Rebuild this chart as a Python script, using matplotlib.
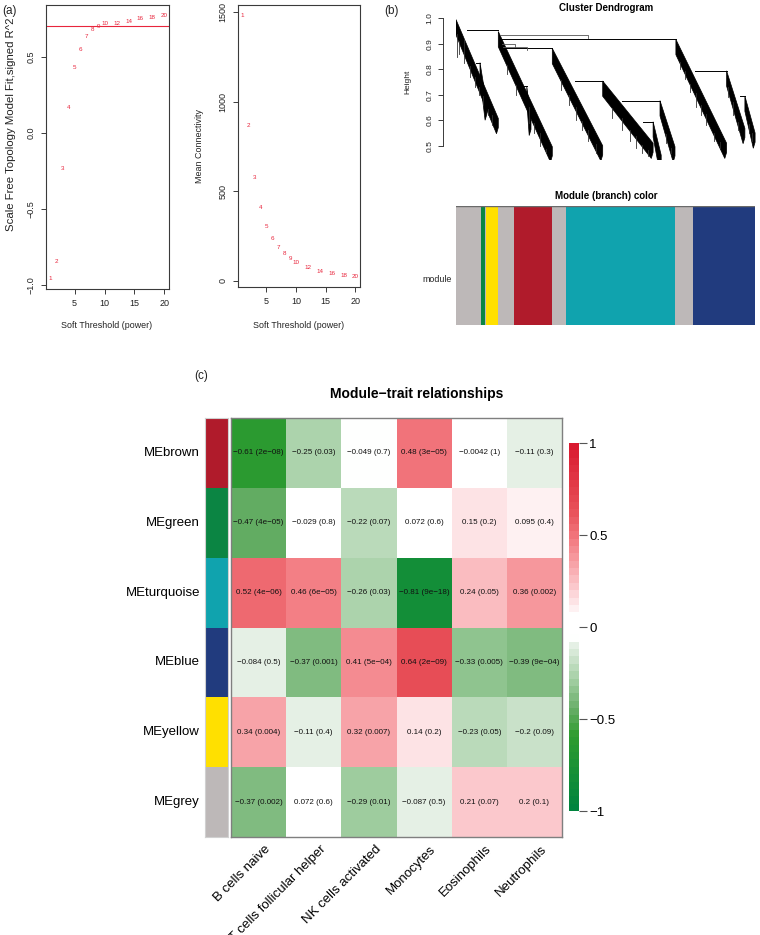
import numpy as np
import matplotlib
matplotlib.use('Agg')
import matplotlib.pyplot as plt
from matplotlib.colors import LinearSegmentedColormap, Normalize
from matplotlib.patches import Polygon, Rectangle
import matplotlib.colorbar as mcolorbar

plt.rcParams['font.family'] = ['Liberation Sans', 'DejaVu Sans']
plt.rcParams['axes.unicode_minus'] = True

# ---------------- data ----------------
powers = [1, 2, 3, 4, 5, 6, 7, 8, 9, 10, 12, 14, 16, 18, 20]
sft_r2 = [-0.958, -0.843, -0.232, 0.168, 0.427, 0.546, 0.631, 0.677, 0.701, 0.717,
          0.721, 0.734, 0.752, 0.761, 0.772]
mean_k = [1481, 867, 573, 409, 303, 234, 184, 149, 121, 100, 71, 52, 39, 28, 22]
r2_cut = 0.7

# dendrogram (leaf position 0..1, height)
band_u0 = [0.000, 0.080, 0.141, 0.236, 0.321, 0.489, 0.657, 0.680, 0.733, 0.902, 0.963]
band_u1 = [0.141, 0.103, 0.321, 0.250, 0.489, 0.657, 0.684, 0.730, 0.902, 0.963, 0.997]
band_h0 = [0.995, 0.826, 0.948, 0.733, 0.882, 0.754, 0.594, 0.677, 0.917, 0.794, 0.695]
band_h1 = [0.607, 0.660, 0.496, 0.600, 0.500, 0.510, 0.463, 0.496, 0.510, 0.568, 0.550]
merge_u0 = [0.035, 0.157, 0.147, 0.065, 0.215, 0.397, 0.553, 0.623, 0.797, 0.947]
merge_u1 = [0.141, 0.321, 0.733, 0.080, 0.236, 0.489, 0.680, 0.657, 0.902, 0.963]
merge_h = [0.954, 0.882, 0.917, 0.826, 0.733, 0.754, 0.677, 0.594, 0.794, 0.695]
minor_u0 = [0.147, 0.152, 0.157]
minor_u1 = [0.440, 0.197, 0.236]
minor_h = [0.935, 0.900, 0.888]
drip_u = [0.004, 0.010, 0.027, 0.045, 0.063, 0.075, 0.091, 0.105, 0.120,
          0.170, 0.200, 0.242, 0.260, 0.280, 0.300,
          0.350, 0.375, 0.400, 0.420, 0.440, 0.465,
          0.520, 0.552, 0.580, 0.600, 0.620, 0.640, 0.700, 0.715,
          0.745, 0.763, 0.780, 0.800, 0.815, 0.833, 0.860, 0.880,
          0.906, 0.922, 0.940, 0.975, 0.985]
drip_top = [0.940, 0.910, 0.920, 0.811, 0.770, 0.729, 0.695, 0.646, 0.620,
            0.815, 0.740, 0.650, 0.589, 0.550, 0.489,
            0.756, 0.699, 0.652, 0.597, 0.560, 0.505,
            0.649, 0.610, 0.562, 0.540, 0.504, 0.485, 0.545, 0.490,
            0.828, 0.795, 0.744, 0.706, 0.660, 0.626, 0.551, 0.513,
            0.729, 0.670, 0.593, 0.584, 0.551]
drip_bot = [0.850, 0.860, 0.823, 0.770, 0.730, 0.700, 0.660, 0.620, 0.580,
            0.780, 0.700, 0.588, 0.550, 0.500, 0.470,
            0.720, 0.660, 0.600, 0.560, 0.520, 0.470,
            0.610, 0.560, 0.520, 0.490, 0.470, 0.460, 0.510, 0.470,
            0.800, 0.760, 0.710, 0.650, 0.620, 0.580, 0.520, 0.490,
            0.690, 0.620, 0.560, 0.550, 0.520]

branch_names = ['grey', 'green', 'grey', 'yellow', 'grey', 'brown', 'grey', 'turquoise', 'grey', 'blue']
branch_start = [0.000, 0.084, 0.097, 0.100, 0.140, 0.194, 0.321, 0.368, 0.732, 0.793]
branch_end = [0.084, 0.097, 0.100, 0.140, 0.194, 0.321, 0.368, 0.732, 0.793, 1.000]
color_of = {'grey': '#BDB8B8', 'green': '#0B8543', 'yellow': '#FFE000', 'brown': '#B01B2B',
            'turquoise': '#10A3AE', 'blue': '#213B7E'}

modules = ['MEbrown', 'MEgreen', 'MEturquoise', 'MEblue', 'MEyellow', 'MEgrey']
module_keys = ['brown', 'green', 'turquoise', 'blue', 'yellow', 'grey']
traits = ['B cells naive', 'T cells follicular helper', 'NK cells activated',
          'Monocytes', 'Eosinophils', 'Neutrophils']
cor = [[-0.61, -0.25, -0.049, 0.48, -0.0042, -0.11],
       [-0.47, -0.029, -0.22, 0.072, 0.15, 0.095],
       [0.52, 0.46, -0.26, -0.81, 0.24, 0.36],
       [-0.084, -0.37, 0.41, 0.64, -0.33, -0.39],
       [0.34, -0.11, 0.32, 0.14, -0.23, -0.2],
       [-0.37, 0.072, -0.29, -0.087, 0.21, 0.2]]
pval = [['2e-08', '0.03', '0.7', '3e-05', '1', '0.3'],
        ['4e-05', '0.8', '0.07', '0.6', '0.2', '0.4'],
        ['4e-06', '6e-05', '0.03', '9e-18', '0.05', '0.002'],
        ['0.5', '0.001', '5e-04', '2e-09', '0.005', '9e-04'],
        ['0.004', '0.4', '0.007', '0.2', '0.05', '0.09'],
        ['0.002', '0.6', '0.01', '0.5', '0.07', '0.1']]

# ---------------- figure ----------------
W, H = 760, 935
fig = plt.figure(figsize=(7.6, 9.35), dpi=100)


def ax_px(x0, y0, x1, y1):
    return fig.add_axes([x0 / W, 1 - y1 / H, (x1 - x0) / W, (y1 - y0) / H])


def ftext(x, y, s, **kw):
    return fig.text(x / W, 1 - y / H, s, **kw)


MINUS = '\u2212'
red = '#E8253C'
frame_col = '#3A3A3A'


def r_style(ax):
    for s in ax.spines.values():
        s.set_color(frame_col)
        s.set_linewidth(0.8)
    ax.tick_params(length=3.5, width=0.7, color=frame_col, labelsize=6.5, labelcolor='#222222')
    ax.tick_params(axis='x', pad=4)
    ax.tick_params(axis='y', pad=4, labelrotation=90)
    for lab in ax.get_yticklabels():
        lab.set_va('center')


# Panel (a) left
axA = ax_px(46, 5, 169, 289)
axA.set_xlim(0.24, 20.76)
axA.set_ylim(-1.027, 0.841)
axA.axhline(r2_cut, color=red, lw=0.8)
for p, v in zip(powers, sft_r2):
    axA.text(p, v, str(p), color=red, fontsize=4.5, ha='center', va='center')
axA.set_xticks([5, 10, 15, 20])
axA.set_yticks([-1.0, -0.5, 0.0, 0.5])
axA.set_yticklabels([MINUS + '1.0', MINUS + '0.5', '0.0', '0.5'])
r_style(axA)
ftext(107, 326, 'Soft Threshold (power)', fontsize=6.4, ha='center', va='center', color='#222222')
ftext(11, 124, 'Scale Free Topology Model Fit,signed R^2', fontsize=8.2, rotation=90,
      ha='center', va='center', color='#222222')

# Panel (a) right
axB = ax_px(238, 5, 360, 287)
axB.set_xlim(0.24, 20.76)
axB.set_ylim(-36, 1539)
for p, v in zip(powers, mean_k):
    axB.text(p, v, str(p), color=red, fontsize=4.5, ha='center', va='center')
axB.set_xticks([5, 10, 15, 20])
axB.set_yticks([0, 500, 1000, 1500])
r_style(axB)
ftext(299, 326, 'Soft Threshold (power)', fontsize=6.4, ha='center', va='center', color='#222222')
ftext(200, 146, 'Mean Connectivity', fontsize=6.4, rotation=90, ha='center', va='center', color='#222222')

ftext(2, 11, '(a)', fontsize=8.5, ha='left', va='center', color='#222222')
ftext(384, 11, '(b)', fontsize=8.5, ha='left', va='center', color='#222222')
ftext(194, 376, '(c)', fontsize=8.5, ha='left', va='center', color='#222222')

# Panel (b) dendrogram
axD = ax_px(456, 3, 756, 160)
axD.set_xlim(0, 1)
axD.set_ylim(0.444, 1.060)
t = 0.06
for u0, u1, h0, h1 in zip(band_u0, band_u1, band_h0, band_h1):
    axD.add_patch(Polygon([(u0, h0), (u1, h1), (u1, h1 - t * 0.6), (u1 - 0.006, h1 - t),
                           (u0, h0 - t)], closed=True, facecolor='black', edgecolor='black', lw=0.5))
for u0, u1, h in zip(merge_u0, merge_u1, merge_h):
    axD.plot([u0, u1], [h, h], color='black', lw=0.7)
for u0, u1, h in zip(minor_u0, minor_u1, minor_h):
    axD.plot([u0, u1, u1], [h, h, h - 0.012], color='#555555', lw=0.6)
for u, a, b in zip(drip_u, drip_top, drip_bot):
    axD.plot([u, u], [a, b], color='#333333', lw=0.6)
for s in ['top', 'right', 'bottom']:
    axD.spines[s].set_visible(False)
axD.spines['left'].set_position(('outward', 9.4))
axD.spines['left'].set_bounds(0.5, 1.0)
axD.spines['left'].set_color(frame_col)
axD.spines['left'].set_linewidth(0.7)
axD.set_xticks([])
axD.set_yticks([0.5, 0.6, 0.7, 0.8, 0.9, 1.0])
axD.tick_params(axis='y', length=3.5, width=0.7, color=frame_col, labelsize=6.0, pad=3.2,
                labelrotation=90, labelcolor='#222222')
for lab in axD.get_yticklabels():
    lab.set_va('center')
ftext(606, 8, 'Cluster Dendrogram', fontsize=7, fontweight='bold', ha='center', va='center')
ftext(408, 82, 'Height', fontsize=6, rotation=90, ha='center', va='center', color='#222222')

# module colour bar
axM = ax_px(456, 206, 755, 325)
axM.set_xlim(0, 1)
axM.set_ylim(0, 1)
for n, a, b in zip(branch_names, branch_start, branch_end):
    axM.add_patch(Rectangle((a, 0), b - a, 1, facecolor=color_of[n], edgecolor='none'))
axM.axhline(1, color='#6A6A6A', lw=1.0)
axM.axis('off')
ftext(606, 196, 'Module (branch) color', fontsize=7, fontweight='bold', ha='center', va='center')
ftext(437, 279, 'module', fontsize=6.4, ha='center', va='center', color='#222222')

# Panel (c) heatmap
nodes = [(0.0, '#00843E'), (0.2, '#2F9C2F'), (0.27, '#66AD66'), (0.35, '#A0CDA0'),
         (0.45, '#E6F0E6'), (0.47, '#FFFFFF'), (0.53, '#FFFFFF'), (0.62, '#FBC3C7'),
         (0.75, '#F2767C'), (0.82, '#E8525A'), (1.0, '#D91A2F')]
cmap = LinearSegmentedColormap.from_list('gwr', nodes).resampled(50)
norm = Normalize(-1, 1)

nr, nc = len(modules), len(traits)
axH = ax_px(231, 418, 562, 837)
C = np.array(cor)
axH.pcolormesh(np.arange(nc + 1), np.arange(nr + 1), C, cmap=cmap, norm=norm)
axH.set_xlim(0, nc)
axH.set_ylim(nr, 0)
for i in range(nr):
    for j in range(nc):
        s = (str(cor[i][j]) + ' (' + pval[i][j] + ')').replace('-', MINUS)
        axH.text(j + 0.5, i + 0.5, s, ha='center', va='center', fontsize=5.8, color='#111111')
axH.set_xticks([])
axH.set_yticks([])
for s in axH.spines.values():
    s.set_color('#7F7F7F')
    s.set_linewidth(1.0)

axS = ax_px(205, 418, 228, 837)
axS.set_xlim(0, 1)
axS.set_ylim(nr, 0)
for i, k in enumerate(module_keys):
    axS.add_patch(Rectangle((0, i), 1, 1, facecolor=color_of[k], edgecolor='none'))
axS.set_xticks([])
axS.set_yticks([])
for s in axS.spines.values():
    s.set_color('#D0D0D0')
    s.set_linewidth(0.8)

row_h = (837 - 418) / nr
col_w = (562 - 231) / nc
for i, m in enumerate(modules):
    ftext(200, 418 + (i + 0.5) * row_h, m, fontsize=9.5, ha='right', va='center')
for j, tr in enumerate(traits):
    ftext(231 + (j + 0.5) * col_w + 6, 843, tr, fontsize=9.5, rotation=45,
          ha='right', va='top', rotation_mode='anchor')

ftext(417, 394, 'Module\u2212trait relationships', fontsize=10, fontweight='bold',
      ha='center', va='center')

axC = ax_px(569, 443, 579, 811)
cb = mcolorbar.ColorbarBase(axC, cmap=cmap, norm=norm, ticks=[-1, -0.5, 0, 0.5, 1])
cb.outline.set_visible(False)
cb.set_ticklabels([MINUS + '1', MINUS + '0.5', '0', '0.5', '1'])
axC.tick_params(length=5.5, width=0.8, color='#555555', labelsize=9.5, pad=2)

fig.savefig('out.png', dpi=100)
